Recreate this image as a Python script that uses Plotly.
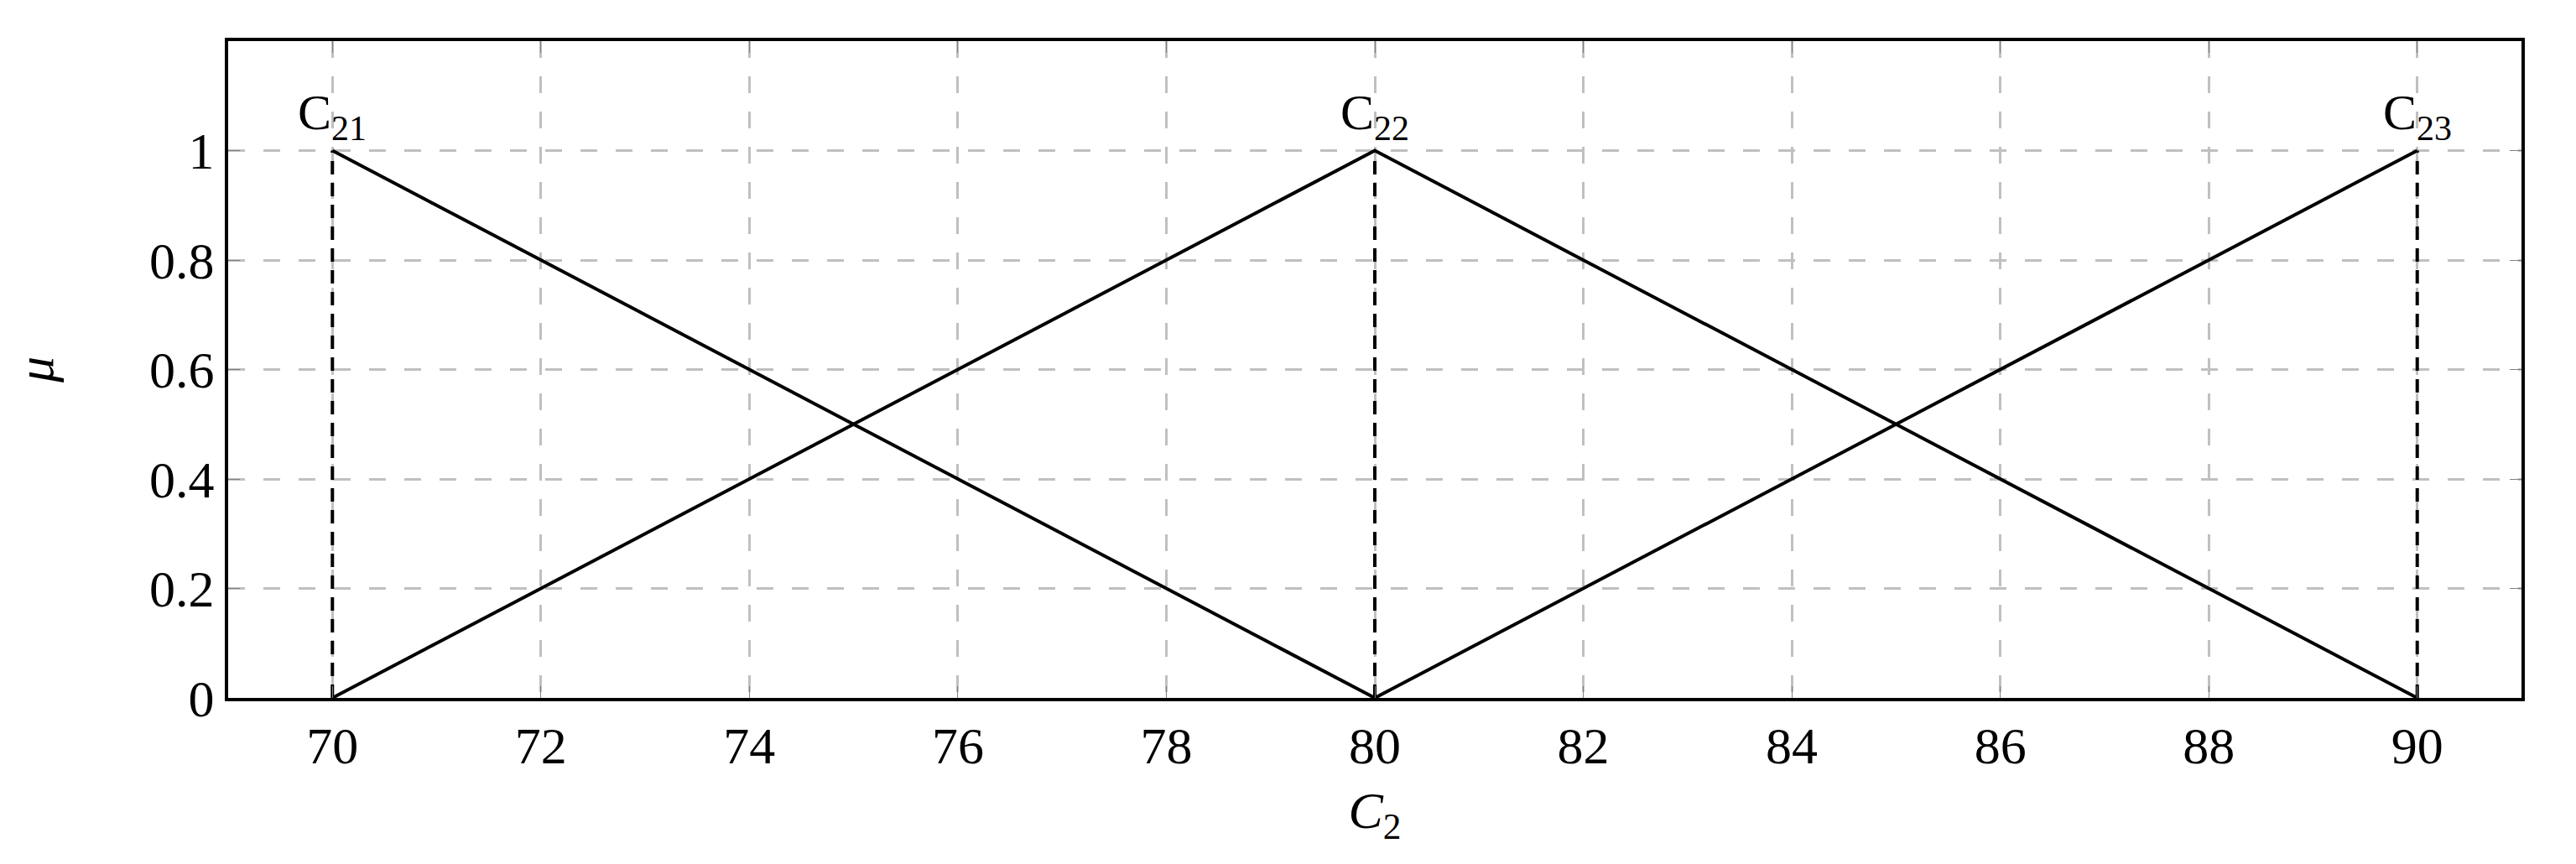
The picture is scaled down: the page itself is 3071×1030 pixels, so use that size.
import plotly.graph_objects as go

# fonctions d'appartenance triangulaires
c21_x = [70, 80]
c21_y = [1, 0]
c22_x = [70, 80, 90]
c22_y = [0, 1, 0]
c23_x = [80, 90]
c23_y = [0, 1]

centres = [70, 80, 90]
noms = ["C<sub>21</sub>", "C<sub>22</sub>", "C<sub>23</sub>"]

x_ticks = list(range(70, 91, 2))
y_ticks = [0, 0.2, 0.4, 0.6, 0.8, 1]
y_tick_labels = ["0", "0.2", "0.4", "0.6", "0.8", "1"]

police = "Liberation Serif"

fig = go.Figure()

# lignes verticales pointillées aux centres
for c in centres:
    fig.add_trace(go.Scatter(
        x=[c, c], y=[0, 1], mode="lines",
        line=dict(color="black", width=4, dash="16px,10px"),
        showlegend=False, hoverinfo="skip"
    ))

for xs, ys in [(c21_x, c21_y), (c22_x, c22_y), (c23_x, c23_y)]:
    fig.add_trace(go.Scatter(
        x=xs, y=ys, mode="lines",
        line=dict(color="black", width=4),
        showlegend=False
    ))

# étiquettes au sommet de chaque triangle
for c, nom in zip(centres, noms):
    fig.add_annotation(
        x=c, y=1, text=nom, showarrow=False,
        xanchor="center", yanchor="bottom", yshift=2,
        font=dict(family=police, size=60, color="black")
    )

fig.update_xaxes(
    range=[69, 91], tickvals=x_ticks,
    ticks="inside", ticklen=14, tickwidth=1, tickcolor="#808080",
    showline=True, linecolor="black", linewidth=4, mirror="allticks",
    showgrid=True, gridcolor="#c0c0c0", gridwidth=3, griddash="20px,22px",
    zeroline=False, automargin=False,
    tickfont=dict(family=police, size=62, color="black"),
    title=dict(text="<i>C</i><sub>2</sub>", font=dict(family=police, size=62, color="black"), standoff=22),
)
fig.update_yaxes(
    range=[0, 1.2], tickvals=y_ticks, ticktext=y_tick_labels,
    ticks="inside", ticklen=14, tickwidth=1, tickcolor="#808080",
    showline=True, linecolor="black", linewidth=4, mirror="allticks",
    showgrid=True, gridcolor="#c0c0c0", gridwidth=3, griddash="20px,22px",
    zeroline=False, automargin=False,
    tickfont=dict(family=police, size=62, color="black"),
    title=dict(text="<i>μ</i>", font=dict(family=police, size=62, color="black"), standoff=105),
)

# la page ajoute une marge de 8 px autour du graphique
fig.update_layout(
    width=3071, height=1030,
    margin=dict(l=264, r=73, t=41, b=206),
    plot_bgcolor="white", paper_bgcolor="white",
)

fig.write_html("out.html")
